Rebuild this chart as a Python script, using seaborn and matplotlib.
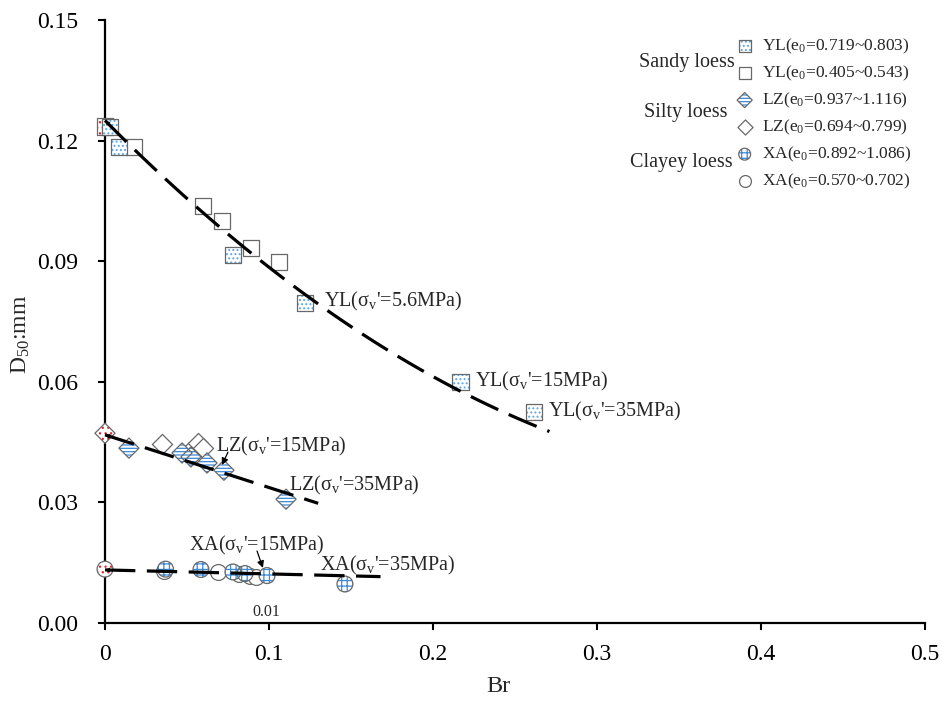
import numpy as np
import matplotlib
matplotlib.use("Agg")
import matplotlib.pyplot as plt
import seaborn as sns

sns.set_theme(style="ticks")
plt.rcParams["font.family"] = ["Liberation Serif", "DejaVu Serif"]
plt.rcParams["mathtext.fontset"] = "custom"
plt.rcParams["mathtext.rm"] = "Liberation Serif"
plt.rcParams["mathtext.it"] = "Liberation Serif:italic"
plt.rcParams["mathtext.default"] = "regular"
plt.rcParams["hatch.linewidth"] = 0.9

# ---- measured particle breakage (Br) vs. median grain size D50 ----
# initial (unloaded) state of each soil
INIT_BR = [0.0, 0.0, 0.0]
INIT_D50 = [0.1235, 0.0472, 0.0134]

# sandy loess, Yulin
YL_LOOSE_BR = [0.0028, 0.0085, 0.0782, 0.1218, 0.2168, 0.2616]
YL_LOOSE_D50 = [0.1234, 0.1185, 0.0915, 0.0796, 0.0600, 0.0525]
YL_DENSE_BR = [0.0175, 0.0600, 0.0716, 0.0890, 0.1060]
YL_DENSE_D50 = [0.1184, 0.1037, 0.1001, 0.0934, 0.0899]

# silty loess, Lanzhou
LZ_LOOSE_BR = [0.0146, 0.0470, 0.0524, 0.0622, 0.0725, 0.1104]
LZ_LOOSE_D50 = [0.0435, 0.0423, 0.0413, 0.0398, 0.0380, 0.0308]
LZ_DENSE_BR = [0.0346, 0.0513, 0.0565, 0.0595]
LZ_DENSE_D50 = [0.0445, 0.0425, 0.0448, 0.0435]

# clayey loess, Xi'an
XA_LOOSE_BR = [0.0369, 0.0585, 0.0780, 0.0854, 0.0988, 0.1463]
XA_LOOSE_D50 = [0.0134, 0.0133, 0.0127, 0.0123, 0.0118, 0.0097]
XA_DENSE_BR = [0.0360, 0.0689, 0.0820, 0.0884, 0.0920]
XA_DENSE_D50 = [0.0130, 0.0126, 0.0121, 0.0116, 0.0115]

# trend lines: D50 = a + b*Br + c*Br^2, drawn over [0, Br_max]
YL_TREND = (0.125, -0.4115, 0.465, 0.271)
LZ_TREND = (0.0468, -0.131, 0.0, 0.130)
XA_TREND = (0.0132, -0.0099, 0.0, 0.168)

LEGEND_LABELS = [
    r"YL(e$_0$=0.719~0.803)", r"YL(e$_0$=0.405~0.543)",
    r"LZ(e$_0$=0.937~1.116)", r"LZ(e$_0$=0.694~0.799)",
    r"XA(e$_0$=0.892~1.086)", r"XA(e$_0$=0.570~0.702)",
]
GROUP_LABELS = ["Sandy loess", "Silty loess", "Clayey loess"]

X_TICKS = [0.0, 0.1, 0.2, 0.3, 0.4, 0.5]
X_TICK_LABELS = ["0", "0.1", "0.2", "0.3", "0.4", "0.5"]
Y_TICKS = [0.0, 0.03, 0.06, 0.09, 0.12, 0.15]
Y_TICK_LABELS = ["0.00", "0.03", "0.06", "0.09", "0.12", "0.15"]

BLUE_DOT = "#58a6e6"
BLUE_LINE = "#3a8ad8"
RED_DOT = "#e3262c"
EDGE = "#686868"

fig = plt.figure(figsize=(9.42, 7.02), dpi=100)
ax = fig.add_axes([105 / 942, 79 / 702, 820 / 942, 603 / 702])


def points(x, y, marker, size, hatch=None, hcolor="black", z=3):
    """Markers with an optional coloured hatch fill and a thin grey outline."""
    layers = []
    if hatch:
        # fill layer: the hatch takes the (zero-width) edge colour
        sns.scatterplot(x=x, y=y, ax=ax, marker=marker, s=size, facecolor="white",
                        edgecolor=hcolor, linewidth=0, hatch=hatch, zorder=z,
                        clip_on=False, legend=False)
        layers.append(ax.collections[-1])
    sns.scatterplot(x=x, y=y, ax=ax, marker=marker, s=size,
                    facecolor="none" if hatch else "white", edgecolor=EDGE,
                    linewidth=0.9, zorder=z + 0.01, clip_on=False, legend=False)
    layers.append(ax.collections[-1])
    return tuple(layers)


SQ, DI, CI = 135, 105, 130

h_yl_d = points(YL_DENSE_BR, YL_DENSE_D50, "s", SQ, z=3)
h_lz_d = points(LZ_DENSE_BR, LZ_DENSE_D50, "D", DI, z=3)
h_xa_d = points(XA_DENSE_BR, XA_DENSE_D50, "o", CI, z=3)

points(INIT_BR[:1], INIT_D50[:1], "s", SQ, hatch="...", hcolor=RED_DOT, z=3)
points(INIT_BR[1:2], INIT_D50[1:2], "D", DI, hatch="...", hcolor=RED_DOT, z=3)
points(INIT_BR[2:], INIT_D50[2:], "o", CI, hatch="...", hcolor=RED_DOT, z=3)

h_yl_l = points(YL_LOOSE_BR, YL_LOOSE_D50, "s", SQ, hatch="....", hcolor=BLUE_DOT, z=4)
h_lz_l = points(LZ_LOOSE_BR, LZ_LOOSE_D50, "D", DI, hatch="-----", hcolor=BLUE_LINE, z=4)
h_xa_l = points(XA_LOOSE_BR, XA_LOOSE_D50, "o", CI, hatch="+++", hcolor=BLUE_LINE, z=4)

ARW_START = dict(arrowstyle="-|>", color="black", lw=0, mutation_scale=9,
                 shrinkA=0, shrinkB=0)
for a, b, c, xmax in (YL_TREND, LZ_TREND, XA_TREND):
    br = np.linspace(0.0, xmax, 120)
    fit = a + b * br + c * br ** 2
    sns.lineplot(x=br, y=fit, ax=ax, color="black", linewidth=2.3, zorder=5)
    ln = ax.lines[-1]
    ln.set_dashes((9.5, 3.6))
    ln.set_dash_capstyle("butt")
    ln.set_clip_on(False)
    # small arrowhead at the start of each trend line
    ax.annotate("", xy=(br[0], fit[0]), xytext=(br[4], fit[4]),
                arrowprops=ARW_START, zorder=5, annotation_clip=False)

# stress-level annotations
TXT = dict(fontsize=14.5, va="center", ha="left", zorder=6)
ax.text(0.1335, 0.0801, r"YL($\sigma_v$'=5.6MPa)", **TXT)
ax.text(0.2256, 0.0600, r"YL($\sigma_v$'=15MPa)", **TXT)
ax.text(0.2700, 0.0526, r"YL($\sigma_v$'=35MPa)", **TXT)
ax.text(0.0677, 0.0440, r"LZ($\sigma_v$'=15MPa)", **TXT)
ax.text(0.1120, 0.0343, r"LZ($\sigma_v$'=35MPa)", **TXT)
ax.text(0.0512, 0.0194, r"XA($\sigma_v$'=15MPa)", **TXT)
ax.text(0.1310, 0.0144, r"XA($\sigma_v$'=35MPa)", **TXT)
ax.text(0.0982, 0.0028, "0.01", fontsize=11.5, ha="center", va="center")

ARW = dict(arrowstyle="-|>", color="black", lw=0.9, mutation_scale=10,
           shrinkA=0, shrinkB=0)
ax.annotate("", xy=(0.0713, 0.0393), xytext=(0.0750, 0.0425), arrowprops=ARW, zorder=6)
ax.annotate("", xy=(0.0963, 0.0137), xytext=(0.0927, 0.0179), arrowprops=ARW, zorder=6)

ax.set_xlim(0, 0.5)
ax.set_ylim(0, 0.15)
ax.set_xticks(X_TICKS, X_TICK_LABELS)
ax.set_yticks(Y_TICKS, Y_TICK_LABELS)
ax.tick_params(axis="both", labelsize=17, length=5, width=1.5, color="black",
               labelcolor="black", direction="out")
ax.tick_params(axis="x", pad=10)
ax.tick_params(axis="y", pad=14)
sns.despine(ax=ax)
for s in ("left", "bottom"):
    ax.spines[s].set_linewidth(1.6)
    ax.spines[s].set_color("black")

ax.set_xlabel("Br", fontsize=17.5, va="center")
ax.xaxis.set_label_coords(0.480, -0.106)
ax.set_ylabel(r"D$_{50}$:mm", fontsize=17, va="center")
ax.yaxis.set_label_coords(-0.103, 0.478)

handles = [h_yl_l, h_yl_d, h_lz_l, h_lz_d, h_xa_l, h_xa_d]
ax.legend(handles, LEGEND_LABELS, loc="upper left",
          bbox_to_anchor=(736 / 942, 1 - 37 / 702), bbox_transform=fig.transFigure,
          frameon=False, fontsize=12.5, markerscale=0.75, handlelength=1.0,
          handletextpad=0.5, labelspacing=0.45, borderpad=0, borderaxespad=0)

for (label, px, py) in zip(GROUP_LABELS, (735, 728, 733), (62, 112, 162)):
    fig.text(px / 942, 1 - py / 702, label, fontsize=14.5, ha="right", va="center")

fig.savefig("out.png", dpi=100, facecolor="white")
